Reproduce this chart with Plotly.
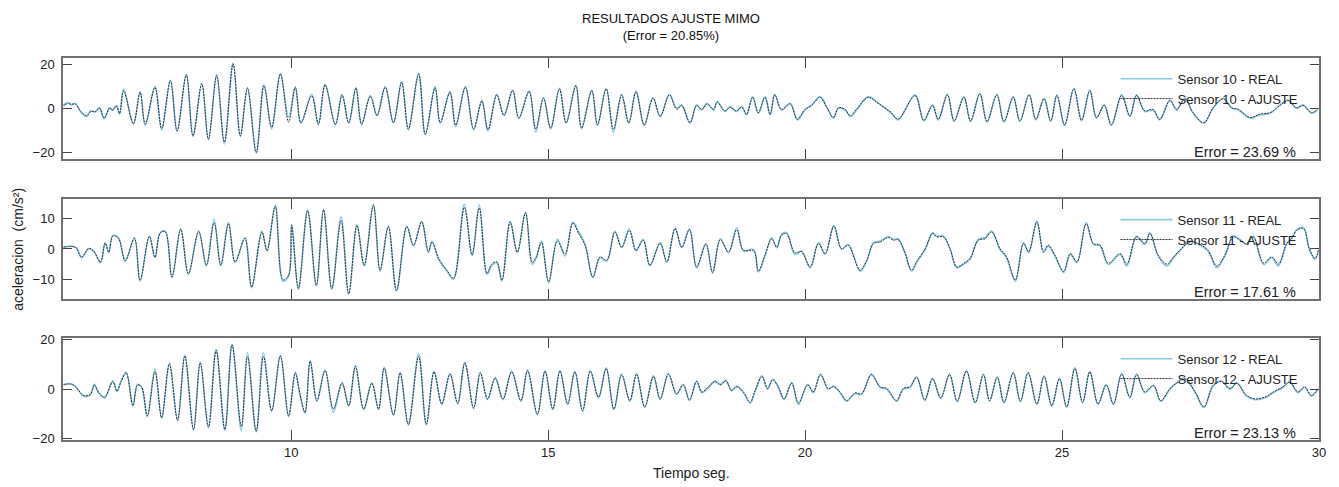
import plotly.graph_objects as go

# ---- data (extrema of each record) ----
t10 = [5.57, 5.65, 5.73, 5.80, 5.91, 6.02, 6.10, 6.19, 6.27, 6.36, 6.47, 6.52, 6.60, 6.66, 6.74,
       6.93, 7.06, 7.16, 7.35, 7.48, 7.65, 7.78, 7.96, 8.09, 8.26, 8.39, 8.55, 8.70, 8.87, 9.01,
       9.15, 9.32, 9.47, 9.62, 9.79, 9.95, 10.08, 10.19, 10.40, 10.53, 10.66, 10.86, 10.99, 11.12,
       11.26, 11.37, 11.54, 11.67, 11.83, 11.99, 12.15, 12.28, 12.48, 12.61, 12.80, 12.90, 13.09,
       13.20, 13.39, 13.55, 13.71, 13.83,
       14.00, 14.14, 14.31, 14.43, 14.63, 14.76, 14.91, 15.05, 15.22, 15.35, 15.54, 15.65, 15.85,
       15.96, 16.13, 16.27, 16.43, 16.57, 16.71, 16.87, 17.04, 17.18, 17.36, 17.50, 17.60, 17.76,
       17.89, 17.99, 18.09, 18.22, 18.29, 18.44, 18.54, 18.66, 18.77, 18.86, 18.98, 19.09, 19.22,
       19.32, 19.41, 19.54, 19.71, 19.85, 20.00, 20.13, 20.29, 20.42, 20.55, 20.65, 20.78, 20.88,
       21.00, 21.23, 21.39, 21.55, 21.68, 21.81,
       22.14, 22.31, 22.48, 22.59, 22.77, 22.90, 23.09, 23.22, 23.40, 23.54, 23.73, 23.87, 24.05,
       24.18, 24.36, 24.49, 24.65, 24.78, 24.90, 25.05, 25.23, 25.38, 25.54, 25.67, 25.82, 25.96,
       26.16, 26.32, 26.45, 26.61, 26.77, 26.90, 27.10, 27.23, 27.39, 27.55, 27.76, 27.94, 28.14,
       28.30, 28.43, 28.66, 28.85, 29.05, 29.24, 29.40, 29.56, 29.69, 29.86, 29.97]
real10 = [1.6, 2.6, 1.6, 2.3, -1.7, -3.7, -1.1, -1.7, 0.4, -4.7, 0.1, -0.7, 1.3, -2.6, 8.8,
          -7.1, 7.6, -7.7, 9.8, -9.7, 12.8, -10.4, 15.4, -12.7, 11.3, -14.2, 15.1, -16.0, 20.3, -12.7,
          9.4, -20.2, 10.6, -9.2, 15.8, -4.0, 9.8, -6.7, 6.4, -7.4, 10.9, -7.4, 6.4, -6.7,
          9.4, -7.4, 5.8, -2.9, 9.8, -6.7, 12.1, -9.7, 15.8, -11.9, 9.8, -6.7, 7.6,
          -8.2, 9.8, -9.7, 3.8, -10.1,
          6.4, -2.9, 8.3, -4.7, 7.9, -10.7, 4.9, -9.2, 9.1, -6.7, 10.6, -9.2, 8.3,
          -7.7, 9.1, -10.8, 6.4, -6.7, 7.9, -7.7, 4.9, -3.7, 6.4, 0.1, 1.6, -6.7,
          1.6, -0.7, 2.3, -0.7, 3.1, -1.4, 0.8, -1.4, 0.8, -2.9, 5.3, -2.2, 5.3,
          -2.9, 6.4, -0.7, 2.3, -5.2, -0.7, 1.6, 5.3, 0.8, -4.4, 0.1, -0.7, -3.7,
          -0.7, 5.3, 3.1, 0.1, -2.2, -5.2,
          6.1, -5.6, 1.6, -5.2, 6.4, -5.9, 5.3, -5.9, 6.8, -6.2, 6.4, -6.2, 5.3,
          -5.9, 6.4, -5.2, 4.6, -5.9, 6.1, -7.7, 9.1, -5.6, 8.3, -4.4, 1.6, -7.7,
          6.1, -3.7, 6.1, -1.4, -0.7, -5.2, 3.8, -0.7, 4.6, -2.2, -6.7, 0.1, 4.6,
          0.1, -0.7, -4.4, -2.9, -2.2, 1.6, 3.8, 0.1, 1.6, -2.2, -0.7]
fit10 = [1.2, 2.1, 1.9, 2.0, -1.5, -3.3, -1.4, -1.4, 0.2, -4.3, 0.4, -0.9, 1.1, -2.2, 7.9,
         -6.8, 7.2, -7.0, 9.4, -9.0, 12.5, -10.1, 15.2, -12.3, 11.0, -13.8, 14.8, -15.1, 20.1, -12.3,
         9.1, -19.8, 10.2, -8.5, 15.5, -6.2, 9.4, -6.4, 5.6, -7.0, 10.6, -7.1, 6.0, -6.4,
         9.1, -7.0, 5.4, -3.3, 9.5, -6.3, 11.8, -9.3, 15.4, -11.5, 9.3, -6.3, 7.3,
         -7.5, 9.5, -9.1, 3.2, -9.6,
         6.1, -3.2, 8.0, -4.2, 7.6, -9.3, 4.6, -8.8, 8.8, -6.4, 10.2, -8.8, 8.0,
         -7.3, 8.8, -9.4, 6.0, -6.4, 7.4, -7.4, 4.6, -3.4, 6.1, -0.4, 1.2, -6.3,
         1.3, -0.4, 2.0, -0.4, 2.8, -1.1, 0.5, -1.1, 0.5, -2.6, 5.0, -1.9, 5.0,
         -2.6, 6.1, -0.4, 2.0, -4.8, -0.4, 1.3, 5.0, 0.5, -4.0, 0.3, -0.4, -3.3,
         -0.4, 5.0, 2.8, 0.3, -1.9, -4.8,
         5.8, -5.3, 1.3, -4.9, 6.1, -5.6, 5.0, -5.6, 6.5, -5.9, 6.1, -5.9, 5.0,
         -5.6, 6.1, -4.9, 4.3, -5.6, 5.8, -7.3, 8.8, -5.3, 8.0, -4.1, 1.3, -7.3,
         5.8, -3.4, 5.8, -1.1, -0.4, -4.9, 3.5, -0.4, 4.3, -1.9, -6.4, 0.3, 4.3,
         0.3, -0.4, -4.1, -2.6, -1.9, 1.3, 3.5, 0.3, 1.3, -1.9, -0.4]

t11 = [5.57, 5.73, 5.82, 5.92, 6.06, 6.16, 6.29, 6.38, 6.45, 6.53, 6.64, 6.77, 6.95, 7.06, 7.24,
       7.35, 7.45, 7.55, 7.68, 7.85, 8.00, 8.20, 8.35, 8.50, 8.63, 8.78, 8.91, 9.10, 9.23, 9.43,
       9.53, 9.69, 9.84, 9.95, 10.01, 10.14, 10.32, 10.49, 10.63, 10.79, 10.97, 11.12, 11.28,
       11.42, 11.60, 11.73, 11.89, 12.05, 12.25, 12.38, 12.54, 12.67, 12.74, 12.87, 13.03,
       13.16, 13.37, 13.52, 13.66,
       13.81, 13.90, 14.00, 14.10, 14.26, 14.40, 14.56, 14.69, 14.77, 14.87, 15.01, 15.18, 15.33,
       15.48, 15.59, 15.72, 15.87, 16.01, 16.14, 16.30, 16.43, 16.58, 16.71, 16.85, 16.98, 17.18,
       17.31, 17.47, 17.60, 17.75, 17.89, 18.07, 18.20, 18.35, 18.51, 18.67, 18.80, 19.00, 19.09,
       19.22, 19.35, 19.45, 19.54, 19.64, 19.80, 19.93, 20.10, 20.26, 20.39, 20.56, 20.71, 20.84,
       21.07, 21.20, 21.33, 21.46, 21.62, 21.72, 21.81, 21.94,
       22.07, 22.17, 22.34, 22.48, 22.56, 22.69, 22.82, 22.95, 23.08, 23.21, 23.37, 23.50, 23.63,
       23.79, 23.92, 24.09, 24.25, 24.35, 24.51, 24.64, 24.73, 24.86, 25.03, 25.16, 25.29, 25.47,
       25.61, 25.74, 25.90, 26.13, 26.26, 26.45, 26.61, 26.71, 26.87, 27.04, 27.17, 27.29, 27.49,
       27.65, 27.84, 28.01, 28.17, 28.33, 28.46, 28.59, 28.72, 28.92, 29.08, 29.21, 29.37, 29.47,
       29.57, 29.70, 29.81, 29.92, 29.99]
real11 = [0.7, 0.8, 0.4, -2.9, 0.1, -0.7, -4.5, 2.1, -1.2, 4.5, 3.7, -4.0, 3.7, -10.6, 4.3,
          -2.9, 5.4, 5.9, -9.5, 6.7, -8.4, 5.9, -5.6, 9.9, -5.6, 8.7, -4.5, 3.7, -12.8, 5.9,
          -0.7, 14.4, -10.6, -8.9, 8.1, -13.3, 12.9, -12.2, 13.1, -13.3, 10.6, -15.0, 8.1,
          -5.6, 14.7, -7.3, 7.6, -13.9, 7.6, 1.0, 9.2, -1.2, 2.6, -3.4, -7.3,
          -10.0, 14.8, -2.3, 14.6,
          -8.4, -5.6, -4.5, -10.6, 9.2, -1.2, 12.2, -5.1, -2.9, 2.6, -11.1, 3.2, -2.3,
          8.9, 5.9, 1.5, -9.5, -2.9, -4.0, 5.9, 0.4, 6.7, -0.7, 3.2, -5.6, 2.1,
          -4.5, 7.0, 0.4, 6.7, -6.2, 1.5, -8.0, 3.4, -1.2, 7.0, -0.7, -0.1, -7.6,
          -2.3, 3.7, 0.4, 4.8, 5.4, -1.8, -0.7, -6.2, 2.1, -1.8, 7.8, -0.1, 1.5,
          -7.3, -4.0, 2.1, 2.6, 4.1, 3.2, 3.4, -1.2,
          -7.3, -4.5, -0.1, 5.4, 4.3, 4.3, -0.1, -6.2, -5.1, -3.4, 3.2, 3.7, 5.9,
          -0.1, -2.9, -10.6, 2.1, -1.2, 9.2, -1.2, 1.0, -2.3, -7.8, -1.8, -4.5, 8.7,
          1.5, 1.0, -5.1, -1.8, -5.6, 4.3, 1.5, 5.4, -2.3, -5.6, -2.9, -0.7, 2.6,
          1.5, -0.7, -6.2, -2.3, 4.3, 3.2, 1.5, 4.3, -5.1, -2.9, -5.6, 1.5, 3.7,
          6.5, 7.0, -0.1, -3.4, -0.7]
fit11 = [0.6, 0.9, 0.3, -2.7, 0.2, -0.8, -4.3, 1.9, -1.0, 4.3, 3.5, -3.8, 3.5, -10.3, 4.1,
         -2.7, 5.2, 5.7, -9.2, 6.5, -8.1, 5.7, -5.3, 8.7, -5.3, 8.4, -4.2, 3.5, -12.5, 5.6,
         -0.5, 14.1, -10.2, -8.6, 7.8, -13.0, 12.6, -11.9, 12.8, -13.0, 9.4, -14.7, 7.8,
         -5.3, 14.4, -7.0, 7.3, -13.6, 7.3, 1.3, 8.9, -0.9, 2.3, -3.1, -7.0,
         -9.6, 13.7, -1.9, 13.5,
         -8.0, -5.0, -4.2, -10.3, 8.9, -1.0, 11.9, -4.4, -2.6, 2.2, -10.8, 2.6, -1.6,
         8.6, 5.2, 1.2, -9.2, -2.6, -3.7, 5.6, 0.6, 6.1, -0.4, 2.9, -5.3, 1.8,
         -4.2, 6.7, 0.6, 6.4, -5.9, 1.8, -7.7, 3.1, -1.0, 6.3, -0.4, -0.6, -7.3,
         -2.0, 3.4, 0.6, 4.5, 5.1, -1.2, -0.9, -5.9, 1.8, -1.5, 7.5, 0.1, 1.2,
         -7.0, -3.7, 1.8, 2.3, 3.8, 2.9, 3.1, -1.0,
         -7.0, -4.2, 0.2, 5.1, 4.0, 4.0, 0.2, -5.9, -4.8, -3.1, 2.9, 3.4, 5.6,
         0.2, -2.6, -10.2, 1.8, -0.9, 8.9, -0.9, 1.3, -2.0, -7.4, -1.5, -4.2, 8.3,
         1.8, 1.3, -4.6, -1.5, -5.0, 4.0, 1.8, 5.1, -2.0, -5.0, -2.6, -0.4, 2.3,
         1.8, -0.4, -5.6, -2.0, 4.0, 2.9, 1.8, 4.0, -4.6, -2.6, -5.0, 1.8, 3.4,
         6.2, 6.7, 0.2, -3.1, -0.4]

t12 = [5.57, 5.70, 5.80, 5.96, 6.09, 6.17, 6.25, 6.37, 6.53, 6.61, 6.69, 6.79, 6.92, 7.01, 7.09,
       7.20, 7.35, 7.48, 7.63, 7.79, 7.93, 8.10, 8.23, 8.39, 8.54, 8.71, 8.85, 9.03, 9.15, 9.32,
       9.46, 9.62, 9.79, 9.95, 10.08, 10.17, 10.27, 10.37, 10.50, 10.66, 10.82, 10.99, 11.12,
       11.25, 11.41, 11.57, 11.70, 11.81, 11.99, 12.12, 12.28, 12.48, 12.63, 12.78, 12.93,
       13.09, 13.24, 13.38, 13.55, 13.68, 13.82,
       13.97, 14.12, 14.29, 14.47, 14.60, 14.79, 14.94, 15.09, 15.23, 15.38, 15.52, 15.67, 15.82,
       15.98, 16.13, 16.28, 16.43, 16.59, 16.72, 16.88, 17.05, 17.18, 17.34, 17.50, 17.63, 17.75,
       17.89, 17.99, 18.12, 18.25, 18.35, 18.46, 18.57, 18.67, 18.80, 18.93, 19.03, 19.16, 19.27,
       19.37, 19.48, 19.59, 19.74, 19.87, 20.05, 20.16, 20.30, 20.45, 20.55, 20.68, 20.81, 20.97,
       21.10, 21.29, 21.46, 21.59, 21.78, 21.91, 22.04,
       22.17, 22.33, 22.48, 22.64, 22.81, 22.96, 23.14, 23.31, 23.47, 23.59, 23.74, 23.87, 24.05,
       24.19, 24.34, 24.51, 24.65, 24.80, 24.95, 25.09, 25.25, 25.40, 25.54, 25.70, 25.86, 26.00,
       26.16, 26.32, 26.45, 26.61, 26.78, 26.92, 27.10, 27.23, 27.39, 27.59, 27.76, 27.94, 28.10,
       28.27, 28.40, 28.59, 28.75, 28.95, 29.11, 29.30, 29.43, 29.59, 29.72, 29.85, 29.98]
real12 = [1.9, 2.2, 1.2, -2.9, -2.5, 1.9, -1.5, -3.6, 3.3, -1.1, 3.3, 6.8, -7.0, 1.9, 0.6,
          -11.2, 8.2, -11.9, 10.5, -13.0, 13.7, -16.7, 10.9, -15.7, 16.0, -16.7, 18.2, -17.0, 14.8, -17.4,
          14.8, -9.1, 13.7, -11.2, 6.8, -2.2, -9.8, 11.6, -5.0, 7.7, -9.4, 2.6, -7.0,
          9.5, -8.4, 2.6, -8.4, 8.8, -10.8, 6.8, -14.6, 14.4, -14.6, 7.2, -6.3,
          6.3, -6.1, 10.9, -8.0, 6.8, -4.3,
          4.7, -4.3, 7.2, -5.0, 7.7, -10.5, 7.5, -8.4, 7.5, -6.3, 7.2, -9.1, 7.5,
          -3.6, 8.6, -8.4, 6.1, -5.0, 6.3, -7.5, 5.4, -4.3, 6.3, -2.2, 1.9, -4.7,
          3.3, -1.5, 0.6, 3.3, 1.9, 3.6, -0.8, 1.2, -1.5, -5.7, -0.8, 5.4, -0.1,
          4.0, 0.6, -4.3, 2.6, -6.3, 1.9, -1.5, 6.1, -0.1, 1.2, -1.5, -5.0, -1.9,
          -2.2, 6.1, 0.6, -0.1, -5.0, -0.1, 0.6,
          5.0, -4.7, 4.4, -3.9, 6.1, -5.2, 7.5, -5.7, 6.1, -5.0, 5.0, -5.7, 6.8,
          -5.2, 6.8, -6.3, 5.4, -7.0, 4.4, -7.5, 8.6, -5.7, 7.2, -6.3, 1.9, -6.3,
          6.3, -3.6, 6.1, -1.5, 1.2, -5.0, -0.1, 2.6, 4.4, -1.5, -7.5, 1.2, 3.3,
          -0.1, 2.6, -2.9, -4.3, -3.6, -1.5, 0.6, 3.0, -1.5, 0.6, -2.9, -0.1]
fit12 = [1.6, 2.0, 1.0, -2.6, -2.2, 1.6, -1.2, -3.3, 3.0, -0.8, 3.0, 6.5, -6.7, 1.6, 0.9,
         -10.9, 7.0, -11.6, 10.2, -12.7, 13.4, -16.4, 10.6, -15.4, 15.7, -16.4, 17.9, -15.2, 13.2, -17.1,
         13.2, -8.8, 13.4, -10.9, 6.5, -1.9, -9.5, 11.3, -4.7, 7.4, -8.1, 2.3, -6.7,
         9.2, -8.1, 2.3, -8.1, 8.5, -10.5, 6.5, -14.3, 13.2, -14.3, 6.9, -6.0,
         6.0, -5.8, 10.6, -7.7, 6.5, -4.0,
         4.4, -4.0, 6.9, -4.7, 7.4, -10.2, 7.2, -8.1, 7.2, -6.0, 6.9, -8.8, 7.2,
         -3.3, 8.3, -8.1, 5.8, -4.7, 6.0, -7.2, 5.1, -4.0, 6.0, -1.9, 1.6, -4.4,
         3.0, -1.2, 0.9, 3.0, 1.6, 3.3, -0.5, 0.9, -1.2, -5.4, -0.5, 5.1, 0.2,
         3.7, 0.9, -4.0, 2.3, -5.6, 1.6, -1.2, 5.8, 0.2, 0.9, -1.2, -4.7, -1.6,
         -1.9, 5.8, 0.9, 0.2, -4.7, 0.2, 0.9,
         4.7, -4.4, 4.1, -3.6, 5.8, -4.9, 7.2, -5.4, 5.8, -4.7, 4.7, -5.4, 6.5,
         -4.9, 6.5, -6.0, 5.1, -6.7, 4.1, -7.2, 8.3, -5.4, 6.9, -6.0, 1.6, -6.0,
         6.0, -3.3, 5.8, -1.2, 1.5, -4.7, 0.2, 2.3, 4.1, -1.2, -7.2, 1.5, 3.0,
         0.2, 2.3, -2.6, -4.0, -3.3, -1.2, 0.9, 2.7, -1.2, 0.9, -2.6, 0.2]

sensors = ["Sensor 10", "Sensor 11", "Sensor 12"]
errors = ["Error = 23.69 %", "Error = 17.61 %", "Error = 23.13 %"]
y_ticks = [[-20, 0, 20], [-10, 0, 10], [-20, 0, 20]]
x_ticks = [10, 15, 20, 25, 30]

FONT = "Liberation Sans, Arial, sans-serif"
REAL_COLOR = "#86cdeb"
FIT_COLOR = "#2e2e2e"

series = [(t10, real10, fit10), (t11, real11, fit11), (t12, real12, fit12)]
domains = [[0.736, 1.0], [0.369, 0.631], [0.0, 0.267]]
y_ranges = [[-22.7, 22.7], [-16.5, 16.5], [-20.7, 20.7]]
legend_y = [0.985, 0.616, 0.252]

fig = go.Figure()
# page body has an 8px margin, so the figure is made 8px smaller and shifted
layout = dict(
    width=1331, height=479,
    margin=dict(l=55, r=20, t=50, b=47),
    paper_bgcolor="white", plot_bgcolor="white",
    font=dict(family=FONT, size=13, color="#222"),
    showlegend=True,
)

for i, (t, real, fit) in enumerate(series):
    k = "" if i == 0 else str(i + 1)
    leg = "legend" if i == 0 else f"legend{i + 1}"
    fig.add_trace(go.Scatter(
        x=t, y=real, mode="lines", name=f"{sensors[i]} - REAL",
        line=dict(color=REAL_COLOR, width=1.6, shape="spline", smoothing=1.0),
        xaxis="x" + k, yaxis="y" + k, legend=leg,
    ))
    fig.add_trace(go.Scatter(
        x=t, y=fit, mode="lines", name=f"{sensors[i]} - AJUSTE",
        line=dict(color=FIT_COLOR, width=1, dash="2px,1px", shape="spline", smoothing=1.0),
        xaxis="x" + k, yaxis="y" + k, legend=leg,
    ))
    layout["xaxis" + k] = dict(
        domain=[0, 1], anchor="y" + k, range=[5.56, 30],
        tickvals=x_ticks, showticklabels=(i == 2),
        ticks="inside", ticklen=10, tickwidth=1.3, tickcolor="#444",
        showline=True, linecolor="#707070", linewidth=1.5, mirror="ticks",
        showgrid=False, zeroline=False,
        tickfont=dict(size=13),
        **({} if i == 0 else {"matches": "x"}),
    )
    layout["yaxis" + k] = dict(
        domain=domains[i], anchor="x" + k, range=y_ranges[i],
        tickvals=y_ticks[i],
        ticks="inside", ticklen=9, tickwidth=1.3, tickcolor="#444",
        showline=True, linecolor="#707070", linewidth=1.5, mirror="ticks",
        showgrid=False, zeroline=False,
        tickfont=dict(size=13), ticklabelstandoff=4,
    )
    layout[leg] = dict(
        x=0.838, y=legend_y[i], xanchor="left", yanchor="top",
        bgcolor="rgba(0,0,0,0)", borderwidth=0, itemwidth=52,
        font=dict(size=13, color="#222"), tracegroupgap=0,
    )

fig.update_layout(**layout)

annotations = [
    dict(text="RESULTADOS AJUSTE MIMO<br>(Error = 20.85%)", x=0.484, y=1.128,
         xref="paper", yref="paper", xanchor="center", yanchor="top",
         showarrow=False, font=dict(size=13, color="#111")),
    dict(text="Tiempo seg.", x=0.5, y=-0.086, xref="paper", yref="paper",
         xanchor="center", yanchor="middle", showarrow=False, font=dict(size=14)),
    dict(text="aceleracion  (cm/s²)", x=-0.036, y=0.5, xref="paper", yref="paper",
         xanchor="center", yanchor="middle", textangle=-90, showarrow=False,
         font=dict(size=14)),
]
for i in range(3):
    k = "" if i == 0 else str(i + 1)
    annotations.append(dict(
        text=errors[i], x=0.983, y=0.07, xref=f"x{k} domain", yref=f"y{k} domain",
        xanchor="right", yanchor="middle", showarrow=False, font=dict(size=14.5),
    ))
fig.update_layout(annotations=annotations)

fig.write_html("out.html")
